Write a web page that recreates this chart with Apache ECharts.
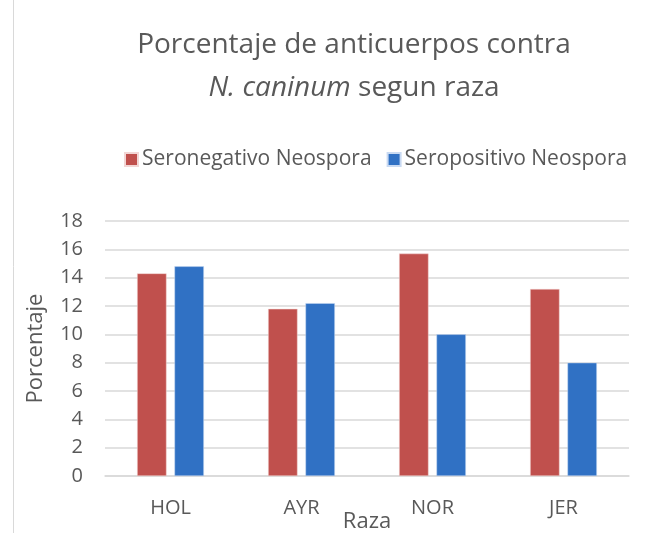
<!DOCTYPE html>
<html>
<head>
<meta charset="utf-8">
<script src="https://cdn.jsdelivr.net/npm/echarts@6/dist/echarts.min.js"></script>
<style>
  html, body { margin: 0; padding: 0; background: #fff; }
  #chart { width: 649px; height: 533px; }
</style>
</head>
<body>
<div id="chart"></div>
<script>
// datos
const razas = ['HOL', 'AYR', 'NOR', 'JER'];
const seronegativo = [14.3, 11.8, 15.7, 13.2];
const seropositivo = [14.8, 12.2, 10.0, 8.0];
const nombres = ['Seronegativo Neospora', 'Seropositivo Neospora'];

const fuente = 'Open Sans';
const gris = '#595959';

let option = {
  animation: false,
  backgroundColor: '#fff',
  textStyle: { fontFamily: fuente },
  title: {
    left: 349,
    top: 19,
    textAlign: 'center',
    text: '{n|Porcentaje de anticuerpos contra}\n{i|N. caninum}{n| segun raza}',
    textStyle: {
      fontWeight: 'normal',
      rich: {
        n: { fontFamily: fuente, fontSize: 28, fontWeight: 'normal', color: gris, lineHeight: 43 },
        i: { fontFamily: fuente, fontSize: 28, fontWeight: 'normal', color: gris, lineHeight: 43, fontStyle: 'italic' }
      }
    }
  },
  legend: {
    data: nombres,
    left: 119,
    top: 144,
    itemWidth: 13,
    itemHeight: 13,
    itemGap: 15,
    icon: 'rect',
    textStyle: { fontFamily: fuente, fontSize: 21, color: gris, padding: [0, 0, 0, -1] }
  },
  grid: {
    left: 105,
    right: 20,
    top: 221,
    bottom: 57,
    outerBoundsMode: 'none',
    containLabel: false
  },
  xAxis: {
    type: 'category',
    data: razas,
    name: 'Raza',
    nameLocation: 'middle',
    nameGap: 35,
    nameMoveOverlap: false,
    nameTextStyle: { fontSize: 22, color: gris },
    axisLine: { lineStyle: { color: '#d9d9d9', width: 1.5 } },
    axisTick: { show: false },
    axisLabel: { fontSize: 20, color: gris, margin: 22 }
  },
  yAxis: {
    type: 'value',
    min: 0,
    max: 18,
    interval: 2,
    name: 'Porcentaje',
    nameLocation: 'middle',
    nameGap: 58,
    nameMoveOverlap: false,
    nameTextStyle: { fontSize: 22, color: gris },
    axisLabel: { fontSize: 20, color: gris, margin: 22 },
    splitLine: { lineStyle: { color: '#d9d9d9', width: 1.5 } }
  },
  series: [
    {
      name: nombres[0],
      type: 'bar',
      data: seronegativo,
      barGap: '27%',
      barCategoryGap: '49%',
      itemStyle: { color: '#C0504D', borderColor: '#f2d6d5', borderWidth: 0.5 }
    },
    {
      name: nombres[1],
      type: 'bar',
      data: seropositivo,
      barGap: '27%',
      barCategoryGap: '49%',
      itemStyle: { color: '#3071C4', borderColor: '#c9daf2', borderWidth: 0.5 }
    }
  ],
  graphic: [
    {
      type: 'line',
      shape: { x1: 13.5, y1: 0, x2: 13.5, y2: 533 },
      style: { stroke: '#d9d9d9', lineWidth: 1 }
    }
  ]
};

const chart = echarts.init(document.getElementById('chart'), null, { renderer: 'canvas' });
chart.setOption(option);
</script>
</body>
</html>
